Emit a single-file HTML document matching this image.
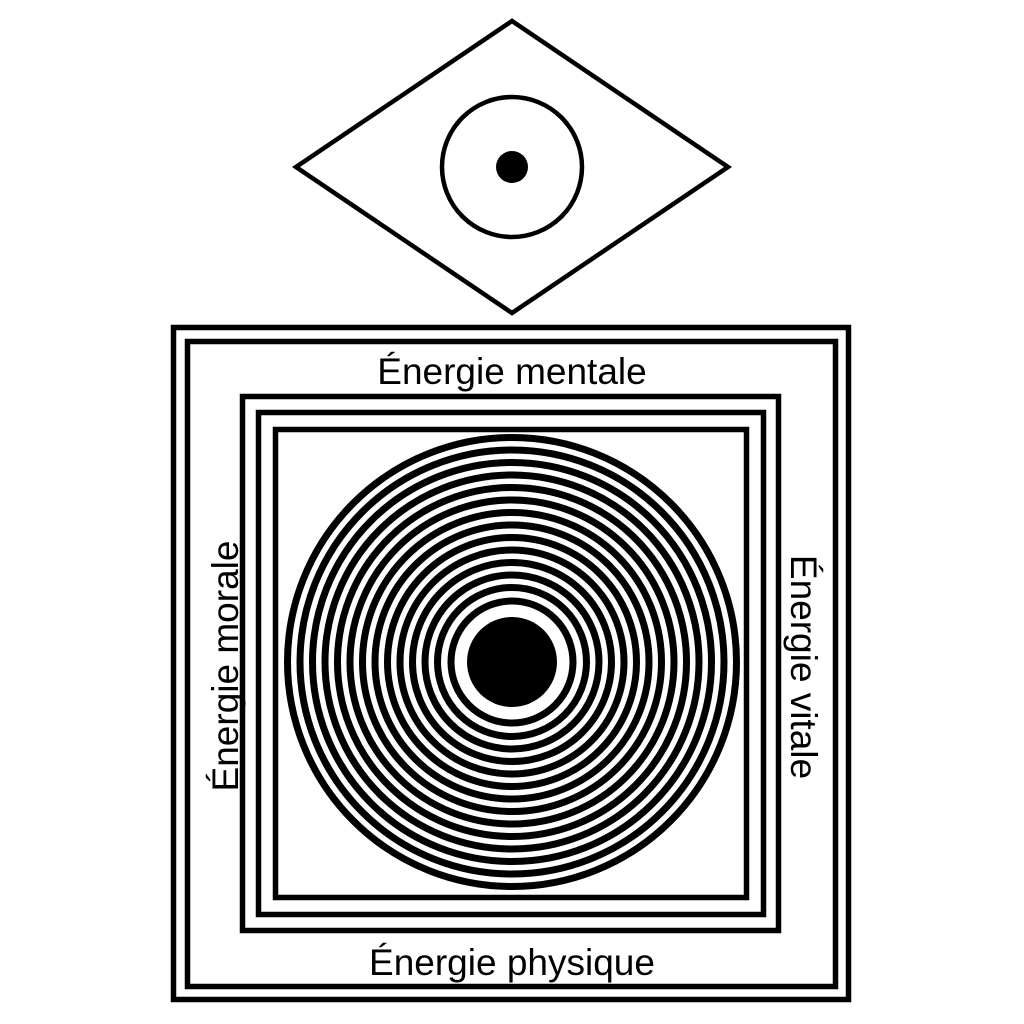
<!DOCTYPE html>
<html><head><meta charset="utf-8"><style>html,body{margin:0;padding:0;background:#fff}svg{display:block}</style></head>
<body>
<svg width="1024" height="1024" viewBox="0 0 1024 1024" xmlns="http://www.w3.org/2000/svg">
<rect width="1024" height="1024" fill="#fff"/>
<polygon points="296,167 512,21 728,167 512,313" fill="none" stroke="#000" stroke-width="4.5"/>
<circle cx="512" cy="167" r="70" fill="none" stroke="#000" stroke-width="4.5"/>
<circle cx="512" cy="167" r="16" fill="#000"/>
<g fill="none" stroke="#000" stroke-width="5.5">
<rect x="173.5" y="327.5" width="675" height="672"/>
<rect x="187.5" y="341.5" width="648" height="645"/>
<rect x="242.5" y="396.5" width="536" height="534"/>
<rect x="258.5" y="412.5" width="505" height="502"/>
<rect x="275.5" y="429.5" width="471" height="468"/>
</g>
<g fill="none" stroke="#000" stroke-width="7">
<circle cx="512" cy="662" r="224.5"/>
<circle cx="512" cy="662" r="212"/>
<circle cx="512" cy="662" r="199.5"/>
<circle cx="512" cy="662" r="187"/>
<circle cx="512" cy="662" r="174.5"/>
<circle cx="512" cy="662" r="162"/>
<circle cx="512" cy="662" r="149.5"/>
<circle cx="512" cy="662" r="137"/>
<circle cx="512" cy="662" r="124.5"/>
<circle cx="512" cy="662" r="112"/>
<circle cx="512" cy="662" r="99.5"/>
<circle cx="512" cy="662" r="87"/>
<circle cx="512" cy="662" r="74.5"/>
<circle cx="512" cy="662" r="61"/>
</g>
<circle cx="512" cy="662" r="45" fill="#000"/>
<g font-family="Liberation Sans, sans-serif" font-size="37" fill="#000" text-anchor="middle">
<text x="512" y="384">Énergie mentale</text>
<text x="512" y="975">Énergie physique</text>
<text transform="translate(238,666) rotate(-90)">Énergie morale</text>
<text transform="translate(791,667) rotate(90)">Énergie vitale</text>
</g>
</svg>
</body></html>
